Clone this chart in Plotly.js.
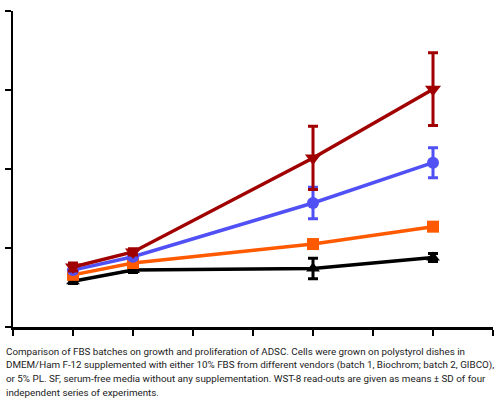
<!DOCTYPE html>
<html><head><meta charset="utf-8">
<script src="https://cdn.plot.ly/plotly-3.0.1.min.js"></script>
<style>html,body{margin:0;padding:0;background:#fff}#c{width:500px;height:400px}</style>
</head><body><div id="c"></div>
<script>
var days = [1, 2, 5, 7];
var batch2 = [0.76, 0.95, 2.14, 3.01];
var batch2SD = [0.05, 0.04, 0.40, 0.46];
var batch1 = [0.72, 0.89, 1.57, 2.08];
var batch1SD = [0.03, 0.03, 0.20, 0.19];
var pl = [0.66, 0.81, 1.05, 1.27];
var plSD = [0.03, 0.03, 0.02, 0.03];
var sf = [0.58, 0.72, 0.74, 0.88];
var sfSD = [0.03, 0.03, 0.13, 0.05];
var seriesNames = ['batch 2', 'batch 1', 'PL', 'SF'];
var captionLines = [
  'Comparison of FBS batches on growth and proliferation of ADSC. Cells were grown on polystyrol dishes in',
  'DMEM/Ham F-12 supplemented with either 10% FBS from different vendors (batch 1, Biochrom; batch 2, GIBCO),',
  'or 5% PL. SF, serum-free media without any supplementation. WST-8 read-outs are given as means ± SD of four',
  'independent series of experiments.'
];

function tr(name, y, sd, color, sym, size) {
  return {
    x: days, y: y, name: name, type: 'scatter', mode: 'lines+markers',
    line: {color: color, width: 3.5},
    marker: {color: color, symbol: sym, size: size},
    error_y: {type: 'data', array: sd, visible: true, color: color, thickness: 3, width: 5}
  };
}
var data = [
  tr(seriesNames[3], sf, sfSD, '#000000', 'triangle-up', 12),
  tr(seriesNames[2], pl, plSD, '#FF5A00', 'square', 12),
  tr(seriesNames[1], batch1, batch1SD, '#5050F5', 'circle', 12),
  tr(seriesNames[0], batch2, batch2SD, '#A00000', 'triangle-down', 14)
];
var linePx = [351, 365, 378, 392];
var annotations = captionLines.map(function (t, i) {
  return {
    xref: 'paper', yref: 'paper', x: -0.019, y: (327 - linePx[i]) / 316,
    xanchor: 'left', yanchor: 'middle', align: 'left', showarrow: false, text: t,
    font: {family: 'Roboto, sans-serif', size: 9.8, color: '#222'}
  };
});
var layout = {
  width: 500, height: 400,
  margin: {l: 13, r: 7, t: 11, b: 73},
  showlegend: false,
  paper_bgcolor: '#fff', plot_bgcolor: '#fff',
  xaxis: {range: [0, 8], dtick: 1, tick0: 0, showgrid: false, zeroline: false,
    showline: true, linecolor: '#000', linewidth: 2.5, ticks: 'outside', ticklen: 6,
    tickwidth: 2.5, tickcolor: '#000', showticklabels: false},
  yaxis: {range: [0, 4], dtick: 1, tick0: 0, showgrid: false, zeroline: false,
    showline: true, linecolor: '#000', linewidth: 2.5, ticks: 'outside', ticklen: 6,
    tickwidth: 2.5, tickcolor: '#000', showticklabels: false},
  annotations: annotations
};
Plotly.newPlot('c', data, layout, {displayModeBar: false, staticPlot: true});
</script></body></html>
